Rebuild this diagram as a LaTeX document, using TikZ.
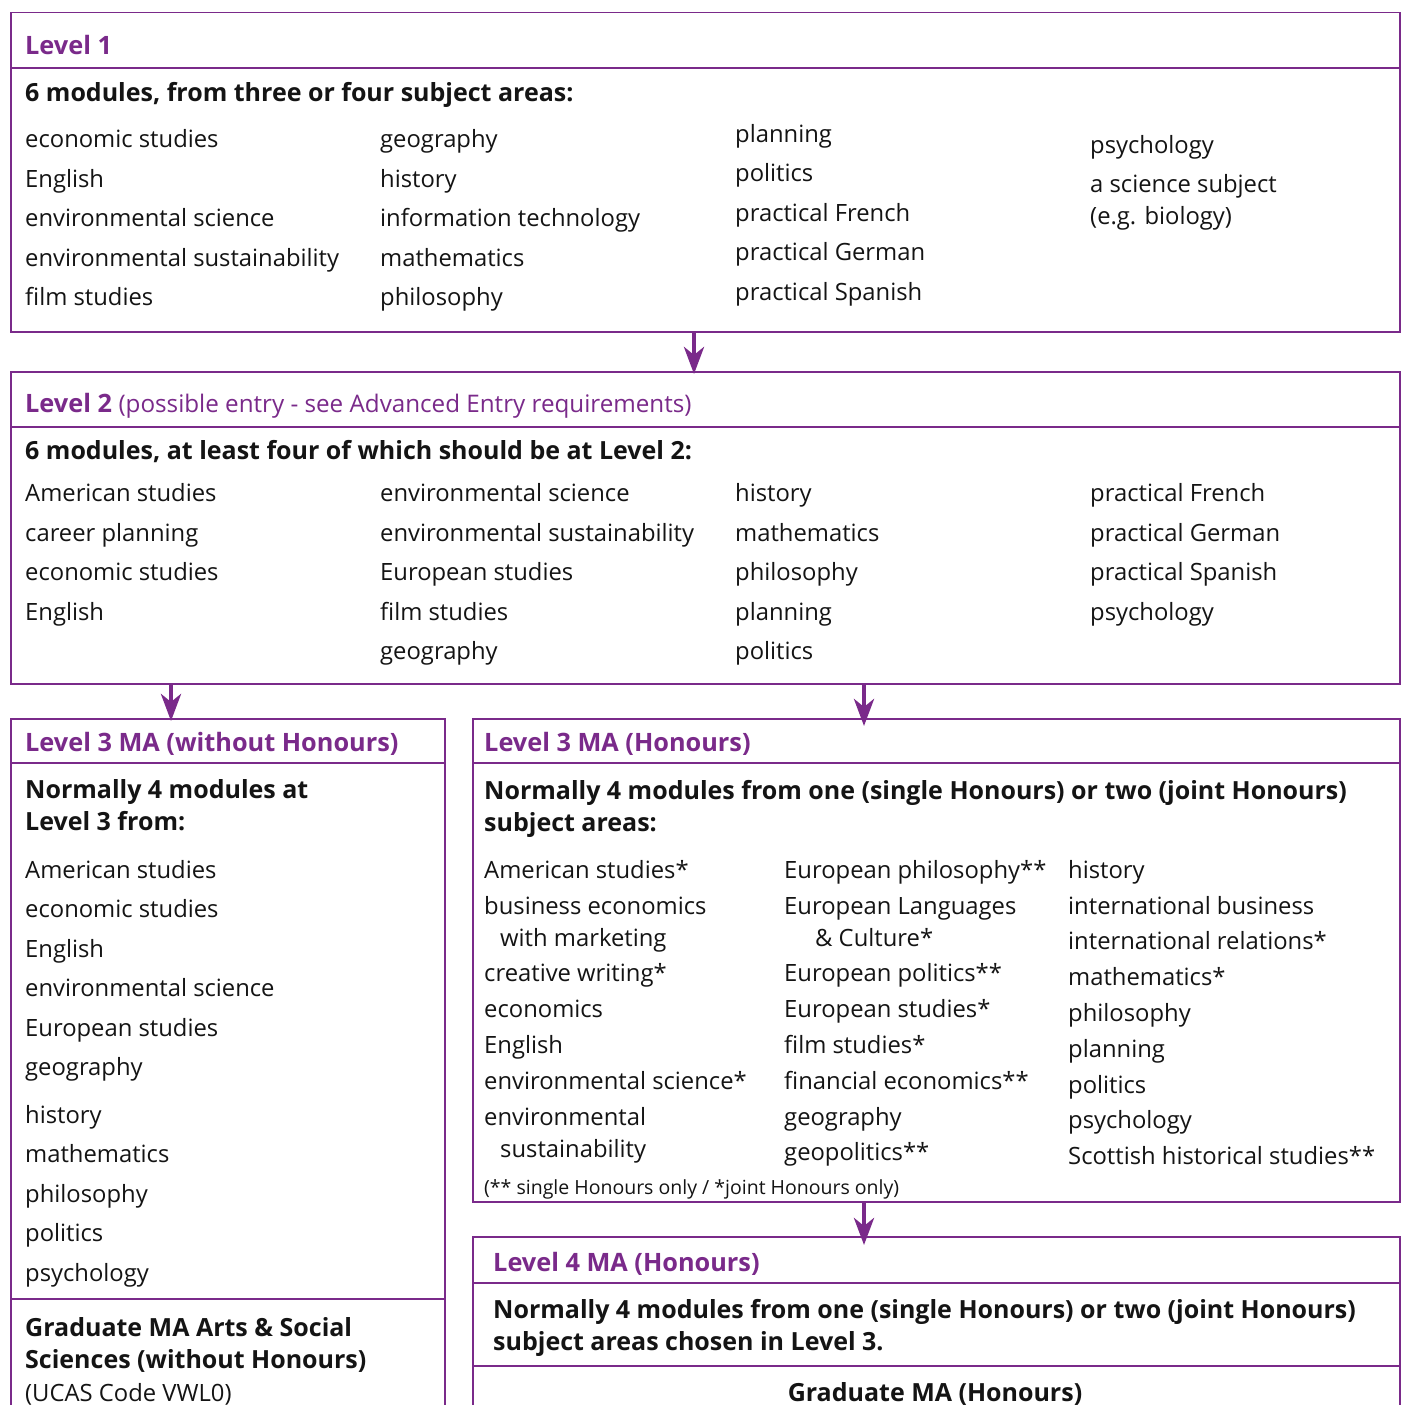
\documentclass[tikz,border=0pt]{standalone}
\usepackage{fontspec}
\setmainfont{Open Sans}
\usetikzlibrary{arrows.meta}
\definecolor{pur}{RGB}{122,42,138}
\definecolor{ink}{RGB}{20,20,20}
\tikzset{
  box/.style={draw=pur, line width=1.5pt, inner sep=0pt, anchor=north west},
  sep/.style={draw=pur, line width=1.5pt},
  txt/.style={anchor=mid west, inner sep=0pt, yshift=-7pt},
  ttl/.style={txt, text=pur, font=\fontsize{25.3}{30}\selectfont\bfseries},
  hd/.style={txt, text=ink, font=\fontsize{25}{30}\selectfont\bfseries},
  itm/.style={txt, text=ink, font=\fontsize{23.8}{30}\selectfont},
  note/.style={txt, text=ink, font=\fontsize{19.5}{22}\selectfont},
  arr/.style={draw=pur, line width=4.5pt, -{Stealth[length=27pt,width=20pt,inset=8pt]}}
}
\begin{document}
\begin{tikzpicture}[x=1pt,y=-1pt]
\useasboundingbox (0,0) rectangle (1404,1405);
\clip (0,0) rectangle (1404,1405);
\fill[white] (0,0) rectangle (1404,1405);
% boxes
\node[box, minimum width=1389pt, minimum height=319pt] (l1) at (10,12) {};
\node[box, minimum width=1389pt, minimum height=312pt] (l2) at (10,371) {};
\node[box, minimum width=434pt, minimum height=760pt] (l3a) at (10,718) {};
\node[box, minimum width=927pt, minimum height=483pt] (l3b) at (472,718) {};
\node[box, minimum width=927pt, minimum height=300pt] (l4) at (472,1236) {};
% separators
\draw[sep] (10,68) -- (1399,68);
\draw[sep] (10,427) -- (1399,427);
\draw[sep] (10,763) -- (444,763);
\draw[sep] (10,1299) -- (444,1299);
\draw[sep] (472,763) -- (1399,763);
\draw[sep] (472,1283) -- (1399,1283);
\draw[sep] (472,1366) -- (1399,1366);
% arrows
\coordinate (c1) at (694,0);
\coordinate (c2) at (171,0);
\coordinate (c3) at (864,0);
\draw[arr] (c1 |- l1.south) -- ([yshift=-3pt]c1 |- l2.north);
\draw[arr] (c2 |- l2.south) -- ([yshift=-3pt]c2 |- l3a.north);
\draw[arr] (c3 |- l2.south) -- ([yshift=-8pt]c3 |- l3b.north);
\draw[arr] (c3 |- l3b.south) -- ([yshift=-9pt]c3 |- l4.north);
% Level 1
\node[ttl] (t1) at (25,45) {Level 1};
\node[hd] (h1) at (25,92) {6 modules, from three or four subject areas:};
\foreach \t/\y [count=\i] in {economic studies/138, English/178, environmental science/217, environmental sustainability/257, film studies/296}
  \node[itm, name=pa\i] at (25,\y) {\t};
\foreach \t/\y [count=\i] in {geography/138, history/178, information technology/217, mathematics/257, philosophy/296}
  \node[itm, name=pb\i] at (380,\y) {\t};
\foreach \t/\y [count=\i] in {planning/133, politics/172, practical French/212, practical German/251, practical Spanish/291}
  \node[itm, name=pc\i] at (735,\y) {\t};
\foreach \t/\y [count=\i] in {psychology/144, a science subject/183, (e.g. biology)/215}
  \node[itm, name=pd\i] at (1090,\y) {\t};
% Level 2
\node[ttl] (t2) at (25,403) {Level 2 {\mdseries\fontsize{24.2}{30}\selectfont(possible entry - see Advanced Entry requirements)}};
\node[hd] (h2) at (25,450) {6 modules, at least four of which should be at Level 2:};
\foreach \t/\y [count=\i] in {American studies/492, career planning/532, economic studies/571, English/611}
  \node[itm, name=qa\i] at (25,\y) {\t};
\foreach \t/\y [count=\i] in {environmental science/492, environmental sustainability/532, European studies/571, film studies/611, geography/650}
  \node[itm, name=qb\i] at (380,\y) {\t};
\foreach \t/\y [count=\i] in {history/492, mathematics/532, philosophy/571, planning/611, politics/650}
  \node[itm, name=qc\i] at (735,\y) {\t};
\foreach \t/\y [count=\i] in {practical French/492, practical German/532, practical Spanish/571, psychology/611}
  \node[itm, name=qd\i] at (1090,\y) {\t};
% Level 3 without Honours
\node[ttl] (t3a) at (25,742) {Level 3 MA (without Honours)};
\node[hd] (h3a1) at (25,789) {Normally 4 modules at};
\node[hd] (h3a2) at (25,821) {Level 3 from:};
\foreach \t/\y [count=\i] in {American studies/869, economic studies/908, English/948, environmental science/987, European studies/1027, geography/1066, history/1114, mathematics/1153, philosophy/1193, politics/1232, psychology/1272}
  \node[itm, name=ra\i] at (25,\y) {\t};
\node[hd] (g3a1) at (25,1327) {Graduate MA Arts \& Social};
\node[hd] (g3a2) at (25,1359) {Sciences (without Honours)};
\node[itm] (g3a3) at (25,1392) {(UCAS Code VWL0)};
% Level 3 Honours
\node[ttl] (t3b) at (484,742) {Level 3 MA (Honours)};
\node[hd] (h3b1) at (484,790) {Normally 4 modules from one (single Honours) or two (joint Honours)};
\node[hd] (h3b2) at (484,822) {subject areas:};
\foreach \t/\x/\y [count=\i] in {American studies*/484/869, business economics/484/905, with marketing/500/937, creative writing*/484/972, economics/484/1008, English/484/1044, environmental science*/484/1080, environmental/484/1116, sustainability/500/1148}
  \node[itm, name=sa\i] at (\x,\y) {\t};
\foreach \t/\x/\y [count=\i] in {European philosophy**/784/869, European Languages/784/905, \& Culture*/815/937, European politics**/784/972, European studies*/784/1008, film studies*/784/1044, financial economics**/784/1080, geography/784/1116, geopolitics**/784/1151}
  \node[itm, name=sb\i] at (\x,\y) {\t};
\foreach \t/\y [count=\i] in {history/869, international business/905, international relations*/940, mathematics*/976, philosophy/1012, planning/1048, politics/1084, psychology/1119, Scottish historical studies**/1155}
  \node[itm, name=sc\i] at (1068,\y) {\t};
\node[note] (fn) at (484,1185) {(** single Honours only / *joint Honours only)};
% Level 4
\node[ttl] (t4) at (493,1262) {Level 4 MA (Honours)};
\node[hd] (h41) at (493,1309) {Normally 4 modules from one (single Honours) or two (joint Honours)};
\node[hd] (h42) at (493,1341) {subject areas chosen in Level 3.};
\node[hd, anchor=mid] (g4) at (935,1392) {Graduate MA (Honours)};
\end{tikzpicture}
\end{document}
